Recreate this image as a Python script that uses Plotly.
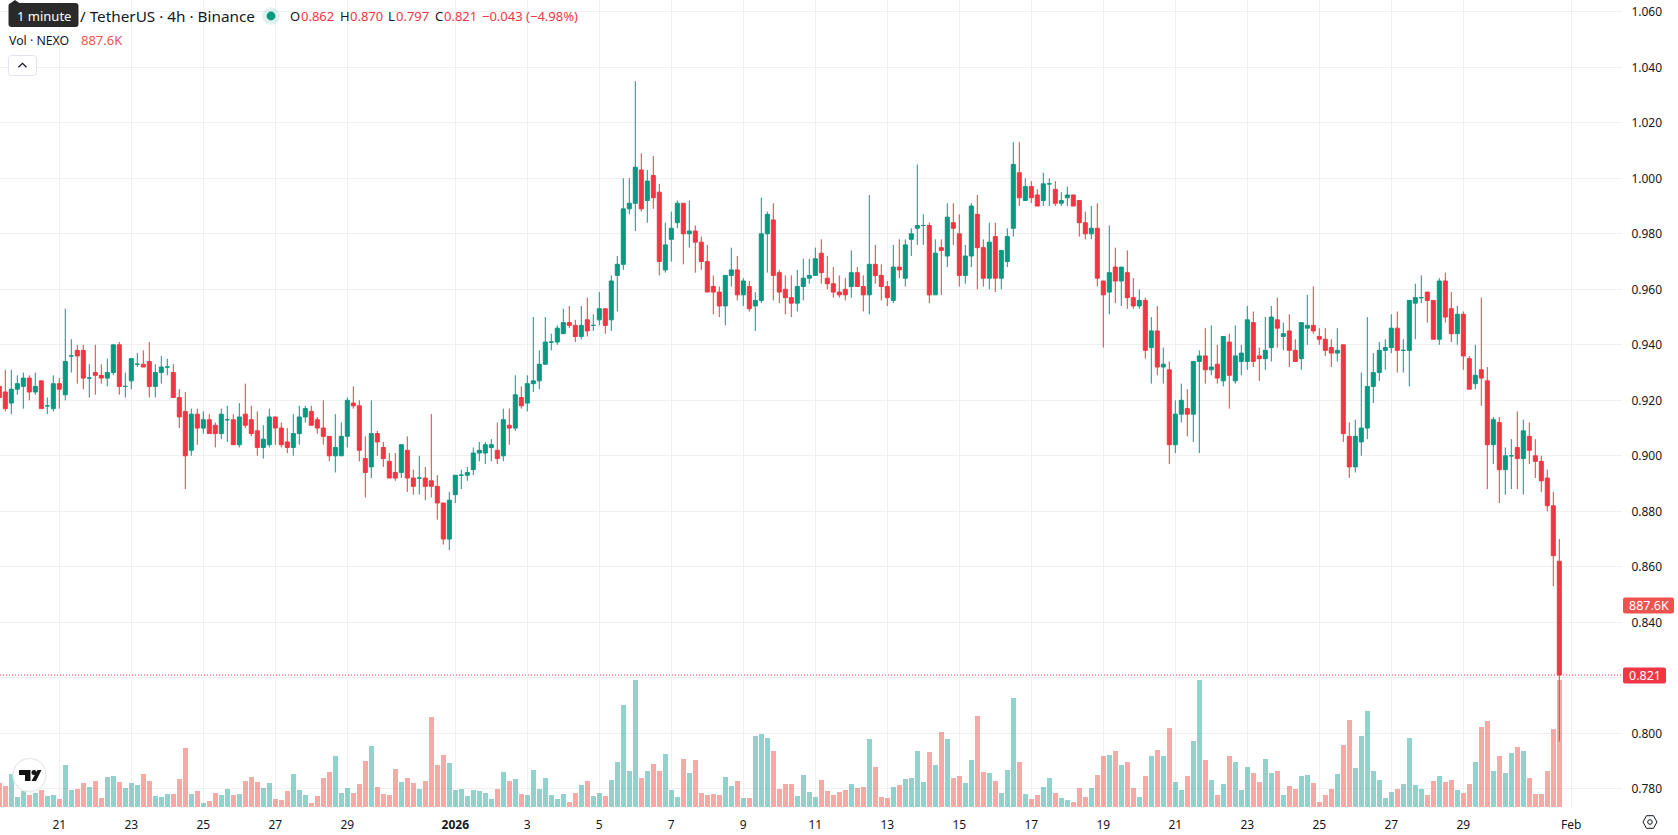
import pandas as pd
import plotly.graph_objects as go

# NEXO/USDT 4h candles, prices in thousandths of a USDT
open_mills = [
    925,923,919,924,925,928,923,927,918,917,
    926,922,936,938,938,928,930,929,928,930,
    940,925,927,933,933,934,925,930,932,930,
    921,916,902,915,910,913,911,908,913,913,
    904,915,913,909,903,904,914,910,905,903,
    908,914,916,913,910,907,900,900,907,919,
    918,899,896,908,903,898,894,894,902,892,
    892,892,891,889,883,870,886,893,893,895,
    901,901,903,902,900,911,910,921,919,926,
    927,933,941,941,944,948,947,943,949,947,
    949,953,949,965,969,989,991,1003,992,1001,
    995,967,978,984,991,980,981,977,970,961,
    959,954,965,967,958,961,954,956,980,985,
    966,960,957,955,961,964,965,973,964,962,
    959,960,961,966,961,958,969,965,961,956,
    968,964,978,982,983,983,958,975,972,984,
    980,965,972,987,975,964,979,964,970,982,
    1002,992,997,994,992,998,996,991,993,994,
    992,984,980,982,963,959,968,963,966,957,
    954,956,939,945,932,931,904,915,917,915,
    934,936,931,933,927,941,927,934,934,948,
    936,935,939,949,943,945,938,935,946,947,
    943,942,939,937,940,907,896,905,910,925,
    930,938,939,946,938,938,955,957,959,956,
    942,963,953,944,951,935,926,931,927,904,
    912,895,900,903,899,907,900,898,892,882,862,
]
high_mills = [
    925,931,931,929,930,929,930,927,921,929,
    928,953,942,940,940,933,940,933,935,940,
    941,930,935,937,938,941,933,936,935,933,
    924,923,917,917,916,915,912,917,918,915,
    919,926,918,916,911,917,914,912,910,915,
    918,918,918,914,920,907,915,912,921,925,
    920,907,920,909,905,901,901,904,907,895,
    900,896,915,893,883,887,893,895,896,903,
    905,905,906,912,917,917,929,925,929,950,
    938,950,944,947,953,954,949,954,957,951,
    959,953,965,972,1000,1000,1035,1009,1003,1008,
    998,984,988,992,991,992,983,979,976,965,
    961,965,975,972,964,963,959,993,988,991,
    967,965,965,967,971,971,975,978,972,968,
    965,964,974,968,965,994,976,969,963,976,
    978,978,982,1005,987,984,978,978,991,991,
    987,976,991,994,978,984,984,974,982,1013,
    1013,1000,999,996,1002,1000,999,995,997,994,
    992,988,990,991,963,983,975,968,974,964,
    960,957,950,954,939,934,920,926,924,934,
    938,946,947,940,943,944,947,940,954,952,
    939,950,954,957,948,951,942,948,958,961,
    946,946,942,946,940,912,913,930,950,937,
    941,942,951,952,942,956,962,965,959,956,
    964,966,959,954,952,936,940,957,932,914,
    914,903,906,916,913,912,906,900,895,887,870,
]
low_mills = [
    921,916,915,922,917,920,922,917,915,916,
    917,920,930,926,924,921,922,926,925,929,
    922,921,924,932,932,921,921,926,929,921,
    910,888,900,904,908,908,903,906,905,904,
    903,910,907,900,899,903,904,903,901,900,
    904,912,911,908,904,898,894,900,903,917,
    898,885,892,900,896,892,891,892,887,886,
    886,884,885,877,868,866,883,888,891,893,
    898,897,898,897,898,904,909,917,916,923,
    924,933,938,940,944,946,941,942,943,945,
    947,944,945,952,967,987,981,988,984,989,
    965,966,970,982,969,975,966,967,959,951,
    950,947,961,956,954,952,945,955,966,956,
    955,951,950,952,956,962,965,962,960,957,
    957,956,957,961,952,951,962,956,954,955,
    964,961,972,976,976,955,958,958,968,976,
    961,962,968,960,961,960,959,960,968,979,
    990,992,991,990,990,990,990,990,990,990,
    979,978,978,961,939,951,955,954,953,953,
    953,935,926,929,926,897,901,912,907,905,
    901,926,929,926,925,917,926,929,931,932,
    927,931,934,939,938,932,934,931,940,944,
    940,936,932,934,905,892,894,900,906,919,
    927,931,937,930,930,925,942,955,948,942,
    940,948,941,940,931,924,924,918,888,897,
    883,886,888,888,886,897,892,887,880,853,797,
]
close_mills = [
    921,917,924,926,928,923,925,917,918,926,
    924,934,936,936,928,928,929,928,930,940,
    925,925,935,933,932,925,930,932,932,921,
    914,900,915,910,913,908,908,915,913,904,
    914,911,908,903,906,914,910,904,903,908,
    914,917,911,910,907,900,903,907,920,918,
    902,894,908,905,899,892,892,904,892,889,
    892,889,889,883,870,884,893,893,894,901,
    902,904,904,899,913,910,922,918,926,927,
    933,941,941,946,948,947,943,947,945,947,
    953,947,963,969,989,991,1004,989,999,993,
    970,976,982,991,980,981,977,970,959,959,
    954,965,967,958,963,953,956,980,987,965,
    959,957,955,961,964,965,971,966,962,959,
    958,958,966,961,958,969,965,961,957,968,
    967,976,980,983,983,958,973,974,986,982,
    965,972,990,975,964,977,964,974,979,1005,
    993,997,993,990,998,998,991,992,994,990,
    984,980,982,964,958,966,963,968,957,954,
    956,938,945,932,933,904,915,920,915,934,
    936,931,932,928,943,929,936,937,949,934,
    935,938,950,946,944,938,934,948,947,945,
    942,938,937,938,908,896,907,910,925,930,
    938,939,946,938,938,956,957,957,956,942,
    963,950,944,951,936,924,929,928,904,913,
    895,900,900,899,909,902,898,891,882,864,821,
]
# Volume per candle, in thousands of NEXO
volume_k = [
    168,147,231,70,112,84,98,119,77,84,
    56,294,119,126,168,140,182,63,210,217,
    175,133,168,154,231,182,77,70,91,91,
    196,413,91,112,28,42,98,84,126,84,
    91,182,210,175,133,168,56,49,112,231,
    119,84,28,77,203,245,357,98,133,98,
    161,322,427,140,91,84,266,175,203,168,
    126,182,630,294,364,308,119,126,77,119,
    112,98,56,126,245,182,196,91,84,259,
    126,203,84,56,91,35,98,154,182,77,
    98,77,189,315,714,252,887.6,203,252,301,
    252,371,119,70,336,238,329,98,84,91,
    84,210,147,182,63,63,497,511,483,392,
    126,161,161,77,224,105,70,189,112,84,
    105,119,161,133,140,476,280,70,63,140,
    154,196,203,392,175,385,294,525,476,203,
    217,168,329,637,245,238,182,98,259,763,
    315,91,56,84,140,203,98,63,49,35,
    133,70,133,224,357,364,392,294,315,133,
    70,217,357,399,357,553,175,119,217,462,
    887.6,329,189,84,161,357,315,119,280,238,
    175,336,238,252,84,147,126,217,224,168,
    35,84,126,231,434,609,273,497,672,252,
    189,63,105,126,161,483,154,126,84,182,
    217,175,189,119,98,161,315,560,602,252,
    357,238,378,420,392,203,91,91,252,546,887.6,
]
first_candle = "2025-12-19 08:00"
tick_dates = ["2025-12-21", "2025-12-23", "2025-12-25", "2025-12-27", "2025-12-29", "2026-01-01",
              "2026-01-03", "2026-01-05", "2026-01-07", "2026-01-09", "2026-01-11", "2026-01-13",
              "2026-01-15", "2026-01-17", "2026-01-19", "2026-01-21", "2026-01-23", "2026-01-25",
              "2026-01-27", "2026-01-29", "2026-02-01"]
tick_labels = ["21", "23", "25", "27", "29", "<b>2026</b>", "3", "5", "7", "9", "11", "13",
               "15", "17", "19", "21", "23", "25", "27", "29", "Feb"]
price_ticks = [0.78, 0.80, 0.82, 0.84, 0.86, 0.88, 0.90, 0.92, 0.94, 0.96, 0.98,
               1.00, 1.02, 1.04, 1.06]

WIDTH, HEIGHT = 1678, 835
PANE_W, PANE_H = 1622, 808
UP, DOWN = "#089981", "#F23645"
UP_VOL, DOWN_VOL = "rgba(38,166,154,0.5)", "rgba(239,83,80,0.5)"
INK = "#131722"
GRID = "#F0F0F0"
FONT = "Noto Sans, sans-serif"
CANDLE = pd.Timedelta(hours=4)


def px(x):
    return x / WIDTH


def py(y):
    return 1 - y / HEIGHT


def path(points, close=True):
    cmds = [f"{'M' if i == 0 else 'L'}{px(x):.5f},{py(y):.5f}" for i, (x, y) in enumerate(points)]
    return " ".join(cmds) + (" Z" if close else "")


def rounded(x0, y0, x1, y1, r):
    return (f"M{px(x0 + r):.5f},{py(y0):.5f} L{px(x1 - r):.5f},{py(y0):.5f} "
            f"Q{px(x1):.5f},{py(y0):.5f} {px(x1):.5f},{py(y0 + r):.5f} "
            f"L{px(x1):.5f},{py(y1 - r):.5f} Q{px(x1):.5f},{py(y1):.5f} {px(x1 - r):.5f},{py(y1):.5f} "
            f"L{px(x0 + r):.5f},{py(y1):.5f} Q{px(x0):.5f},{py(y1):.5f} {px(x0):.5f},{py(y1 - r):.5f} "
            f"L{px(x0):.5f},{py(y0 + r):.5f} Q{px(x0):.5f},{py(y0):.5f} {px(x0 + r):.5f},{py(y0):.5f} Z")


def circle(cx, cy, r, fill, line="rgba(0,0,0,0)", width=0):
    return dict(type="circle", xref="paper", yref="paper",
                x0=px(cx - r), x1=px(cx + r), y0=py(cy + r), y1=py(cy - r),
                fillcolor=fill, line=dict(color=line, width=width), layer="above")


def shape_path(d, fill="rgba(0,0,0,0)", line="rgba(0,0,0,0)", width=0):
    return dict(type="path", xref="paper", yref="paper", path=d, fillcolor=fill,
                line=dict(color=line, width=width), layer="above")


def label(text, x, y, size=13, color=INK, anchor="left"):
    return dict(text=text, x=px(x), y=py(y), xref="paper", yref="paper", xanchor=anchor,
                yanchor="middle", showarrow=False, borderpad=0, align="left",
                font=dict(family=FONT, size=size, color=color))


opens = [v / 1000 for v in open_mills]
highs = [v / 1000 for v in high_mills]
lows = [v / 1000 for v in low_mills]
closes = [v / 1000 for v in close_mills]
times = pd.date_range(first_candle, periods=len(opens), freq="4h")
rising = [c >= o for o, c in zip(opens, closes)]

fig = go.Figure()

# Volume sits on the base axis so the candles draw on top of it
fig.add_trace(go.Bar(x=times, y=volume_k, width=CANDLE.total_seconds() * 1000 * 5 / 6,
                     marker=dict(color=[UP_VOL if r else DOWN_VOL for r in rising], line_width=0),
                     yaxis="y", hoverinfo="skip", showlegend=False))

for want, colour in ((True, UP), (False, DOWN)):
    idx = [i for i, r in enumerate(rising) if r == want]
    fig.add_trace(go.Candlestick(
        x=times[idx], open=[opens[i] for i in idx], high=[highs[i] for i in idx],
        low=[lows[i] for i in idx], close=[closes[i] for i in idx],
        increasing=dict(line=dict(color=colour, width=1), fillcolor=colour),
        decreasing=dict(line=dict(color=colour, width=1), fillcolor=colour),
        whiskerwidth=0, yaxis="y2", hoverinfo="skip", showlegend=False))

# Pixel anchors of the time scale: 21 Dec 00:00 sits at x=59.3, six pixels per candle
origin = pd.Timestamp("2025-12-21")
x_start = origin - CANDLE * (59.3 / 6)
x_end = origin + CANDLE * ((PANE_W - 59.3) / 6)

# Price scale: 0.96 at y=289.3, 2775 pixels per 1.0
p_top = 0.96 + 289.3 / 2775
p_bottom = 0.96 - (PANE_H - 289.3) / 2775

# Volume scale: the tallest bars rise 127 pixels from the baseline at y=807
peak = max(volume_k)
v_per_px = peak / 127
v_bottom = -(PANE_H - 807) * v_per_px
v_top = 807 * v_per_px

last_close = closes[-1]
# The legend quotes the move against the previous candle's close
change = closes[-1] - closes[-2]
change_pct = change / closes[-2] * 100


def signed(v, fmt):
    return ("\u2212" if v < 0 else "+") + format(abs(v), fmt)


shapes = [
    dict(type="line", xref="paper", yref="y2", x0=0, x1=px(PANE_W), y0=last_close, y1=last_close,
         line=dict(color=DOWN, width=1, dash="1px,2px"), layer="above"),
    # Price scale badges
    shape_path(rounded(1623, 597.5, 1674, 613.5, 2), fill="#EF5350"),
    shape_path(rounded(1623, 667.5, 1666, 683.5, 2), fill=DOWN),
    # Interval tooltip with its pointer
    shape_path(path([(10, 3.5), (15, 0), (20, 3.5)]), fill="#2A2A2A"),
    shape_path(rounded(8.5, 3, 78.5, 27, 3), fill="#2A2A2A"),
    # Market status dot
    circle(271, 16, 8.8, "rgba(8,153,129,0.13)"),
    circle(271, 16, 4.4, UP),
    # Collapse button
    shape_path(rounded(8.5, 55.5, 36.5, 75.5, 3), fill="#FFFFFF", line="#E0E3EB", width=1),
    shape_path(path([(18.5, 67.2), (22.5, 63.4), (26.5, 67.2)], close=False), line=INK, width=1.3),
    # Watermark logo
    circle(29.6, 775, 16.5, "#FFFFFF", "#EBEBEB", 1.5),
    shape_path(path([(19, 770), (30.5, 770), (30.5, 781), (25, 781), (25, 775), (19, 775)]), fill="#131313"),
    circle(34, 772.5, 2.5, "#131313"),
    shape_path(path([(37.5, 770), (41.5, 770), (36, 781), (31.5, 781)]), fill="#131313"),
    # Settings glyph under the price scale
    shape_path(path([(1643, 822), (1646.5, 815.7), (1653.5, 815.7), (1657, 822), (1653.5, 828.3), (1646.5, 828.3)]),
               line=INK, width=1),
    circle(1650, 822, 2.3, "rgba(0,0,0,0)", INK, 1),
]

annotations = [
    label("1 minute", 43.5, 15.5, size=13, color="#FFFFFF", anchor="center"),
    label("/ TetherUS \u00b7 4h \u00b7 Binance", 78.5, 16, size=15.3),
    label("O", 289, 16), label(f"{opens[-1]:.3f}", 300, 16, color=DOWN),
    label("H", 339, 16), label(f"{highs[-1]:.3f}", 349, 16, color=DOWN),
    label("L", 387, 16), label(f"{lows[-1]:.3f}", 395, 16, color=DOWN),
    label("C", 433.5, 16), label(f"{closes[-1]:.3f}", 443, 16, color=DOWN),
    label(f"{signed(change, '.3f')} ({signed(change_pct, '.2f')}%)", 481, 16, color=DOWN),
    label("Vol \u00b7 NEXO", 8, 40, size=12.3),
    label(f"{peak:.1f}K", 80, 40, color="#EF5350"),
    label(f"{peak:.1f}K", 1648.5, 605.5, size=12.5, color="#FFFFFF", anchor="center"),
    label(f"{last_close:.3f}", 1644.5, 675.5, size=12.5, color="#FFFFFF", anchor="center"),
]

fig.update_layout(
    width=WIDTH, height=HEIGHT, margin=dict(l=0, r=0, t=0, b=0),
    paper_bgcolor="#FFFFFF", plot_bgcolor="#FFFFFF",
    font=dict(family=FONT, size=12, color=INK),
    boxgap=0.33, boxgroupgap=0, bargap=0, showlegend=False, hovermode=False,
    xaxis=dict(type="date", domain=[0, px(PANE_W)], range=[x_start, x_end],
               tickmode="array", tickvals=tick_dates, ticktext=tick_labels,
               showgrid=True, gridcolor=GRID, gridwidth=1, zeroline=False, showline=False,
               ticks="outside", ticklen=6, tickcolor="rgba(0,0,0,0)",
               tickfont=dict(family=FONT, size=12, color=INK),
               rangeslider=dict(visible=False), fixedrange=True, anchor="y"),
    yaxis=dict(domain=[py(PANE_H), 1], range=[v_bottom, v_top], visible=False, fixedrange=True),
    yaxis2=dict(domain=[py(PANE_H), 1], overlaying="y", side="right", anchor="x",
                range=[p_bottom, p_top], tickmode="array", tickvals=price_ticks,
                tickformat=".3f", showgrid=True, gridcolor=GRID, gridwidth=1, zeroline=False,
                showline=False, ticks="outside", ticklen=6, tickcolor="rgba(0,0,0,0)",
                tickfont=dict(family=FONT, size=12, color=INK), fixedrange=True),
    shapes=shapes, annotations=annotations,
)

fig.write_html("out.html", config=dict(displayModeBar=False, responsive=False))
